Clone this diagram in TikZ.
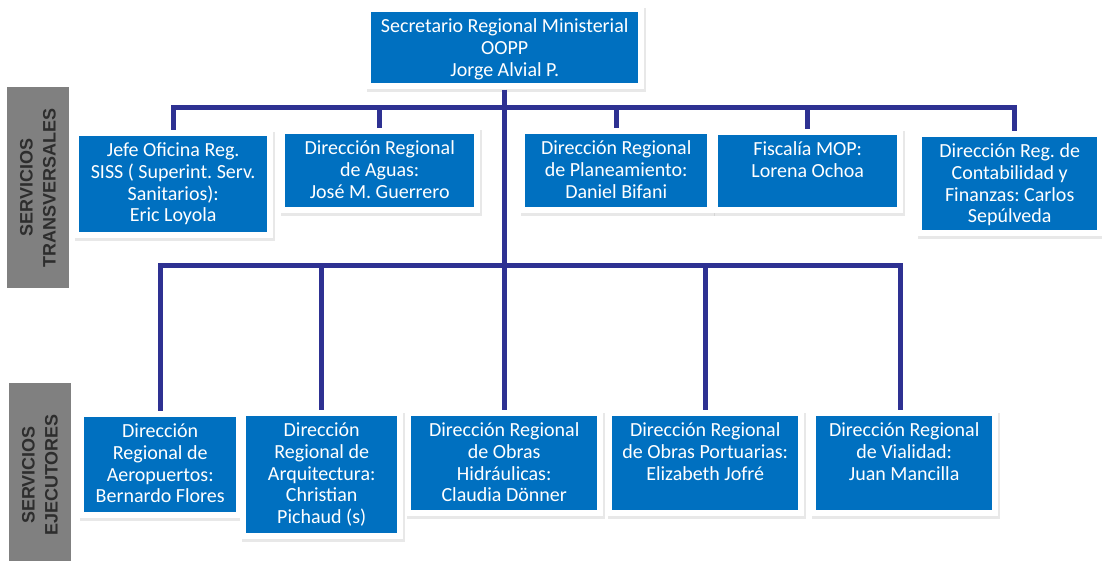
\documentclass[tikz,border=0pt]{standalone}
\usepackage{fontspec}
\setmainfont{Carlito}
\newfontfamily\barfont{Liberation Sans}
\usetikzlibrary{fit,shadows,backgrounds}
\pgfdeclarelayer{base}
\pgfsetlayers{base,background,main}
\definecolor{boxblue}{RGB}{0,112,192}
\definecolor{linkblue}{RGB}{46,49,146}
\definecolor{bargray}{RGB}{128,128,128}
\definecolor{bartext}{RGB}{45,45,45}
\newcommand{\bxt}[3]{\parbox[c][#2pt][t]{#1pt}{\frenchspacing\centering\rule{0pt}{20.5pt}#3\par}}
\begin{document}
\begin{tikzpicture}[x=1pt,y=-1pt,
  bluebox/.style={fill=boxblue, text=white, inner sep=0pt, anchor=north west,
    font=\fontsize{20pt}{21.7pt}\selectfont},
  frame/.style={fill=white, inner sep=6pt,
    drop shadow={shadow xshift=2pt, shadow yshift=-2.5pt, opacity=0.18}},
  conn/.style={draw=linkblue, line width=5pt},
  bar/.style={fill=bargray, inner sep=0pt, anchor=north west},
  bartxt/.style={rotate=90, align=center, text=bartext,
    font=\barfont\bfseries\fontsize{18pt}{23pt}\selectfont}]
\begin{pgfonlayer}{base}
\fill[white] (0,0) rectangle (1102,561);
\end{pgfonlayer}
\useasboundingbox (0,0) rectangle (1102,561);

% side bars
\node[bar, minimum width=62pt, minimum height=201pt] (barT) at (7,87) {};
\node[bartxt] (barTt) at (38,187.5) {SERVICIOS\\TRANSVERSALES};
\node[bar, minimum width=62pt, minimum height=178pt] (barE) at (9,383) {};
\node[bartxt] (barEt) at (40,475) {SERVICIOS\\EJECUTORES};

% boxes
\node[bluebox] (top) at (371,12) {\bxt{267}{71}{Secretario Regional Ministerial\\OOPP\\Jorge Alvial P.}};
\node[bluebox] (t1) at (79,136) {\bxt{188}{96}{Jefe Oficina Reg.\\SISS ( Superint. Serv.\\Sanitarios):\\Eric Loyola}};
\node[bluebox] (t2) at (285,134) {\bxt{189}{73}{Dirección Regional\\de Aguas:\\José M. Guerrero}};
\node[bluebox] (t3) at (525,134) {\bxt{182}{73}{Dirección Regional\\de Planeamiento:\\Daniel Bifani}};
\node[bluebox] (t4) at (718,135) {\bxt{179}{72}{Fiscalía MOP:\\Lorena Ochoa}};
\node[bluebox] (t5) at (922,137) {\bxt{175}{93}{Dirección Reg. de\\Contabilidad y\\Finanzas: Carlos\\Sepúlveda}};
\node[bluebox] (e1) at (84,417) {\bxt{152}{95}{Dirección\\Regional de\\Aeropuertos:\\Bernardo Flores}};
\node[bluebox] (e2) at (246,416) {\bxt{151}{117}{Dirección\\Regional de\\Arquitectura:\\Christian\\Pichaud (s)}};
\node[bluebox] (e3) at (411,416) {\bxt{186}{94}{Dirección Regional\\de Obras\\Hidráulicas:\\Claudia Dönner}};
\node[bluebox] (e4) at (612,416) {\bxt{186}{94}{Dirección Regional\\de Obras Portuarias:\\Elizabeth Jofré}};
\node[bluebox] (e5) at (816,416) {\bxt{176}{94}{Dirección Regional\\de Vialidad:\\Juan Mancilla}};

\begin{scope}[on background layer]
\foreach \n in {top,t1,t2,t3,t4,t5,e1,e2,e3,e4,e5}
  \node[frame, fit=(\n)] (f\n) {};
\end{scope}

% connectors
\coordinate (tbus) at (504.5,108);
\coordinate (ebus) at (504.5,265);
\draw[conn] (ftop.south) -- (ftop.south |- fe3.north);
\draw[conn] (ft1.north) |- ([xshift=4.5pt]tbus -| ft5.north) -- ([xshift=4.5pt]ft5.north);
\foreach \n in {t2,t3,t4}
  \draw[conn] (tbus -| f\n.north) -- (f\n.north);
\draw[conn] (fe1.north) |- ([xshift=-4pt]ebus -| fe5.north) -- ([xshift=-4pt]fe5.north);
\foreach \n in {e2,e4}
  \draw[conn] (ebus -| f\n.north) -- (f\n.north);
\end{tikzpicture}
\end{document}
